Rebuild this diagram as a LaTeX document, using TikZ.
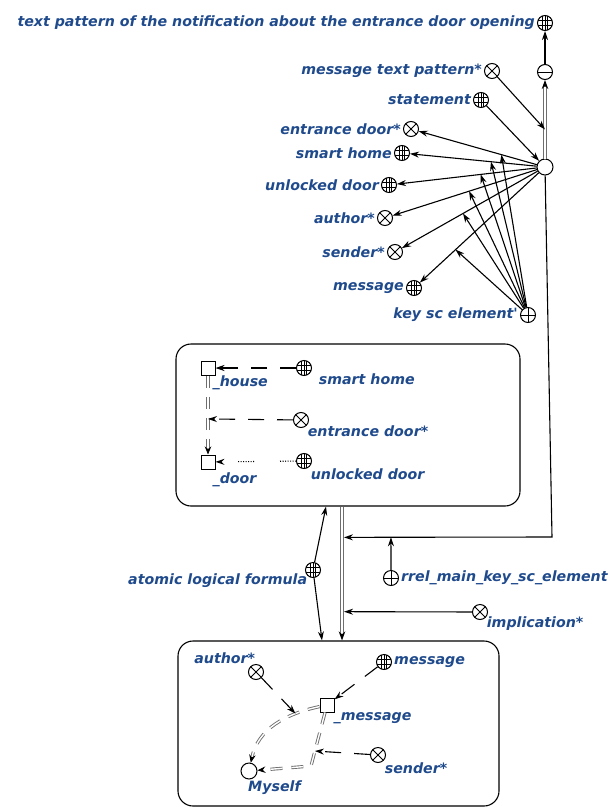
\documentclass[tikz,border=0pt]{standalone}
\usepackage{fontspec}
\newfontfamily\lblfont{DejaVu Sans}
\usepackage{xcolor}
\definecolor{sclabel}{HTML}{1F4A8C}
\definecolor{scpair}{HTML}{6E6E6E}
\usetikzlibrary{arrows.meta,positioning}

\begin{document}
\begin{tikzpicture}[
  x=1pt,y=-1pt,
  font=\lblfont\bfseries\itshape\fontsize{14.2}{16}\selectfont,
  node distance=1pt,
  sccirc/.style={circle,draw,line width=1pt,fill=white,minimum size=15pt,inner sep=0pt},
  clsnode/.style={sccirc,path picture={
      \foreach \d in {-2.6,0,2.6}
        \draw[line width=0.55pt] ([xshift=\d pt]path picture bounding box.north) -- ([xshift=\d pt]path picture bounding box.south);
      \foreach \d in {-2.6,2.6}
        \draw[line width=0.55pt] ([yshift=\d pt]path picture bounding box.west) -- ([yshift=\d pt]path picture bounding box.east);}},
  nrelnode/.style={sccirc,path picture={
      \draw[line width=0.8pt] (path picture bounding box.north west) -- (path picture bounding box.south east)
        (path picture bounding box.north east) -- (path picture bounding box.south west);}},
  rrelnode/.style={sccirc,path picture={
      \draw[line width=0.8pt] (path picture bounding box.north) -- (path picture bounding box.south)
        (path picture bounding box.west) -- (path picture bounding box.east);}},
  tuplenode/.style={sccirc,path picture={
      \draw[line width=0.8pt] (path picture bounding box.west) -- (path picture bounding box.east);}},
  plainnode/.style={sccirc,minimum size=16pt},
  varnode/.style={rectangle,draw,line width=1pt,fill=white,minimum size=14pt,inner sep=0pt},
  lbl/.style={text=sclabel,inner sep=1pt},
  box/.style={draw,line width=1.1pt,rounded corners=15pt},
  arc/.style={-{Stealth[length=9pt,width=6pt]},line width=1.1pt},
  vararc/.style={arc,dash pattern=on 16pt off 13pt},
  fuzarc/.style={arc,dash pattern=on 1pt off 1.5pt on 1pt off 1.5pt on 1pt off 1.5pt on 1pt off 1.5pt on 1pt off 1.5pt on 1pt off 1.5pt on 1pt off 26pt},
  pair/.style={draw=scpair,double=white,double distance=1.4pt,line width=1pt,-{Stealth[length=9pt,width=6.5pt,color=black]}},
  varpair/.style={draw=scpair,double=white,double distance=1.4pt,line width=0.9pt,dash pattern=on 12pt off 9pt,
    -{Stealth[length=8pt,width=6.5pt,color=black]}}
]
\useasboundingbox (0,0) rectangle (613,811);
% boxes
\node[box,minimum width=344pt,minimum height=162pt] (ubox) at (348,425) {};
\node[box,minimum width=321pt,minimum height=165pt] (lbox) at (338.5,723.5) {};
% key elements of the statement
\node[clsnode] (txt) at (545,23) {};
\node[lbl,left=of txt] (txt-l) {text pattern of the notification about the entrance door opening};
\node[tuplenode] (tup) at (545,72) {};
\node[plainnode] (stm) at (545,167) {};
\node[nrelnode] (mtp) at (492,71) {};
\node[lbl,left=of mtp] (mtp-l) {message text pattern*};
\node[clsnode] (stt) at (481,100) {};
\node[lbl,left=of stt] (stt-l) {statement};
\node[nrelnode] (ed) at (411,129) {};
\node[lbl,left=of ed] (ed-l) {entrance door*};
\node[clsnode] (sh) at (402,153) {};
\node[lbl,left=of sh] (sh-l) {smart home};
\node[clsnode] (ud) at (389,185) {};
\node[lbl,left=of ud] (ud-l) {unlocked door};
\node[nrelnode] (au) at (385,218) {};
\node[lbl,left=of au] (au-l) {author*};
\node[nrelnode] (se) at (395,252) {};
\node[lbl,left=of se] (se-l) {sender*};
\node[clsnode] (ms) at (414,288) {};
\node[lbl,left=of ms] (ms-l) {message};
\node[rrelnode] (key) at (528,315) {};
\node[lbl,left=of key] (key-l) {key sc element'};
\draw[pair] (stm) -- (tup) coordinate[pos=.37] (st-m);
\draw[arc] (tup) -- (txt);
\draw[arc] (mtp) -- (st-m);
\draw[arc] (stt) -- (stm);
\draw[arc] (stm) -- (ed) coordinate[pos=.3] (ed-k);
\draw[arc] (stm) -- (sh) coordinate[pos=.36] (sh-k);
\draw[arc] (stm) -- (ud) coordinate[pos=.4] (ud-k);
\draw[arc] (stm) -- (au) coordinate[pos=.47] (au-k);
\draw[arc] (stm) -- (se) coordinate[pos=.55] (se-k);
\draw[arc] (stm) -- (ms) coordinate[pos=.7] (ms-k);
\foreach \k in {ed-k,sh-k,ud-k,au-k,se-k,ms-k}
  \draw[arc] (key) -- (\k);
% condition
\node[varnode] (house) at (208,368) {};
\node[lbl,below right=-1pt and -4pt of house] (house-l) {\_house};
\node[clsnode] (shb) at (304,368) {};
\node[lbl,below right=-1pt and 8pt of shb] (shb-l) {smart home};
\node[nrelnode] (edb) at (301,420) {};
\node[lbl,below right=-1pt and 0pt of edb] (edb-l) {entrance door*};
\node[varnode] (door) at (208,462) {};
\node[lbl,below right=2pt and -4pt of door] (door-l) {\_door};
\node[clsnode] (udb) at (304,461) {};
\node[lbl,below right=1pt and 0pt of udb] (udb-l) {unlocked door};
\draw[varpair] (house) -- (door) coordinate[pos=.55] (hd-m);
\draw[vararc] (shb) -- (house);
\draw[vararc] (edb) -- (hd-m);
\draw[fuzarc] (udb) -- (door);
% implication
\draw[pair] ([xshift=-6pt]ubox.south) -- ([xshift=3.5pt]lbox.north)
  coordinate[pos=.23] (im-a) coordinate[pos=.785] (im-b);
\coordinate (corner) at (552,537);
\draw[arc,shorten >=2pt] (stm) -- (corner) -- (im-a) coordinate[pos=.767] (rk-a);
\node[rrelnode] (rrel) at (391,578) {};
\node[lbl,right=of rrel] (rrel-l) {rrel\_main\_key\_sc\_element};
\draw[arc] (rrel) -- (rk-a);
\node[nrelnode] (impl) at (480,612) {};
\node[lbl,below right=-2pt and 0pt of impl] (impl-l) {implication*};
\draw[arc,shorten >=2pt] (impl) -- (im-b);
\node[clsnode] (alf) at (313,570) {};
\node[lbl,below left=-3pt and -1pt of alf] (alf-l) {atomic logical formula};
\draw[arc] (alf) -- ([xshift=-22pt]ubox.south);
\draw[arc] (alf) -- ([xshift=-16.5pt]lbox.north);
% consequence
\node[varnode] (msq) at (327,705) {};
\node[lbl,below right=-1pt and -2pt of msq] (msq-l) {\_message};
\node[plainnode] (me) at (249,771) {};
\node[lbl,below right=2pt and -8pt of me] (me-l) {Myself};
\node[nrelnode] (aub) at (256,672) {};
\node[lbl,above left=1pt and -6pt of aub] (aub-l) {author*};
\node[clsnode] (msb) at (384,662) {};
\node[lbl,right=of msb] (msb-l) {message};
\node[nrelnode] (seb) at (378,755) {};
\node[lbl,below right=1pt and 0pt of seb] (seb-l) {sender*};
\coordinate (mm-c) at (311,766);
\draw[varpair] (msq) to[out=192,in=78] coordinate[pos=.25] (up-k) (me);
\draw[varpair] (msq) -- (mm-c) coordinate[pos=.72] (lo-k) -- (me);
\draw[vararc] (aub) -- (up-k);
\draw[vararc] (msb) -- (msq);
\draw[vararc] (seb) -- (lo-k);
\end{tikzpicture}
\end{document}
